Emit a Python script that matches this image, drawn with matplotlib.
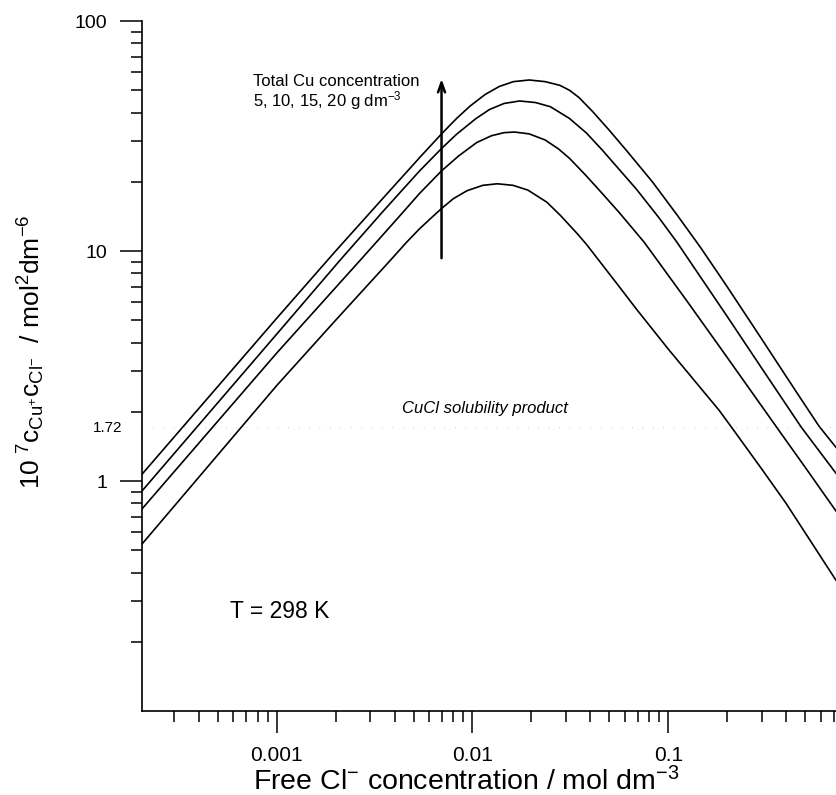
import matplotlib
matplotlib.use('Agg')
import matplotlib.pyplot as plt
from matplotlib.ticker import LogLocator, NullFormatter, FixedLocator, FixedFormatter

plt.rcParams['font.family'] = ['Liberation Sans', 'DejaVu Sans']
plt.rcParams['mathtext.default'] = 'regular'

# free Cl- concentration (mol dm-3) and 1e7*c(Cu+)*c(Cl-)
cl_20 = [2.05e-4, 1e-3, 2e-3, 3.5e-3, 5.4e-3, 6.95e-3, 8.3e-3, 9.7e-3, 0.0116, 0.0137, 0.0162, 0.0195,
         0.0235, 0.028, 0.0313, 0.035, 0.041, 0.05, 0.062, 0.083, 0.11, 0.147, 0.2, 0.3, 0.45, 0.59, 0.72]
k_20 = [1.07, 5.1, 10.0, 17.0, 25.6, 32.3, 37.7, 42.6, 47.9, 51.9, 54.5, 55.4,
        54.5, 52.5, 50.0, 46.5, 40.5, 33.5, 27.0, 20.0, 14.5, 10.3, 7.0, 4.15, 2.45, 1.73, 1.40]

cl_15 = [2.05e-4, 1e-3, 2.09e-3, 3.5e-3, 5.37e-3, 6.95e-3, 8.3e-3, 0.0104, 0.0122, 0.0145, 0.0174,
         0.021, 0.025, 0.0313, 0.0382, 0.046, 0.0687, 0.09, 0.111, 0.2, 0.3, 0.477, 0.72]
k_15 = [0.905, 4.35, 9.05, 14.9, 22.3, 27.9, 32.2, 37.6, 41.2, 43.8, 44.9,
        44.2, 42.4, 37.7, 32.6, 27.5, 18.6, 13.9, 10.9, 5.2, 3.1, 1.72, 1.08]

cl_10 = [2.05e-4, 1e-3, 2.65e-3, 4e-3, 5.37e-3, 6.95e-3, 8.5e-3, 0.0105, 0.0125, 0.0145, 0.0164,
         0.0195, 0.0235, 0.0275, 0.0313, 0.038, 0.046, 0.0562, 0.0755, 0.124, 0.2, 0.364, 0.5, 0.72]
k_10 = [0.756, 3.6, 9.05, 13.4, 17.8, 22.3, 25.9, 29.6, 31.7, 32.7, 32.9,
        32.3, 30.4, 27.8, 25.3, 21.3, 17.8, 14.7, 10.9, 6.1, 3.45, 1.68, 1.15, 0.74]

cl_5 = [2.05e-4, 1e-3, 2e-3, 3.78e-3, 4.6e-3, 5.37e-3, 6.2e-3, 6.95e-3, 8.0e-3, 9.4e-3, 0.0113, 0.0134,
        0.0161, 0.0192, 0.024, 0.0281, 0.0343, 0.0382, 0.0562, 0.0687, 0.1, 0.182, 0.212, 0.3, 0.4, 0.55, 0.72]
k_5 = [0.532, 2.6, 5.0, 9.05, 10.9, 12.5, 14.0, 15.3, 16.9, 18.3, 19.3, 19.6,
       19.3, 18.4, 16.3, 14.3, 11.9, 10.7, 7.0, 5.6, 3.75, 2.03, 1.70, 1.13, 0.80, 0.527, 0.37]

ksp = 1.72

fig = plt.figure(figsize=(8.36, 7.95), dpi=100)
ax = fig.add_axes([142/836, 84/795, 694/836, 690/795])

for x, y in [(cl_5, k_5), (cl_10, k_10), (cl_15, k_15), (cl_20, k_20)]:
    ax.plot(x, y, color='black', lw=1.2)

ax.axhline(ksp, color='0.6', lw=0.5, ls=(0, (1, 14)))

ax.set_xscale('log')
ax.set_yscale('log')
ax.set_xlim(2.05e-4, 0.72)
ax.set_ylim(0.1, 100)

ax.xaxis.set_major_locator(FixedLocator([0.001, 0.01, 0.1]))
ax.xaxis.set_major_formatter(FixedFormatter(['0.001', '0.01', '0.1']))
ax.xaxis.set_minor_locator(LogLocator(base=10, subs=range(2, 10)))
ax.xaxis.set_minor_formatter(NullFormatter())

ax.yaxis.set_major_locator(FixedLocator([1, ksp, 10, 100]))
ax.yaxis.set_major_formatter(FixedFormatter(['1', '1.72', '10', '100']))
ax.yaxis.set_minor_locator(LogLocator(base=10, subs=range(2, 10)))
ax.yaxis.set_minor_formatter(NullFormatter())

for side in ['top', 'right']:
    ax.spines[side].set_visible(False)
for side in ['left', 'bottom']:
    ax.spines[side].set_linewidth(1.2)

ax.tick_params(which='major', direction='out', length=16, width=1.1, pad=9)
ax.tick_params(which='minor', direction='out', length=8, width=1.1)
ax.tick_params(axis='x', which='major', labelsize=15)
ax.tick_params(axis='y', which='major', labelsize=14)
# 1.72 gets a label but no tick mark, closer to the axis
t172 = ax.yaxis.get_major_ticks()[1]
t172.tick1line.set_visible(False)
t172.label1.set_fontsize(11)
t172.set_pad(-2)

xl = ax.set_xlabel(r'Free Cl$^{-}$ concentration / mol dm$^{-3}$', fontsize=20.5)
xl.set_va('baseline')
ax.xaxis.set_label_coords(0.467, -0.115)
ax.set_ylabel(r'10$^{\ 7}$c$_{Cu^{+}}$c$_{Cl^{-}}$  / mol$^{2}$dm$^{-6}$', fontsize=19)
ax.yaxis.set_label_coords(-0.137, 0.52)

ax.annotate('', xy=(6.95e-3, 57.6), xytext=(6.95e-3, 9.05),
            arrowprops=dict(arrowstyle='->,head_length=0.7,head_width=0.25', lw=1.8, color='black'))
ax.text(7.55e-4, 54.3, 'Total Cu concentration', fontsize=12, va='center', ha='left')
ax.text(7.55e-4, 45.0, r'5, 10, 15, 20 g dm$^{-3}$', fontsize=12, va='center', ha='left')
ax.text(0.01164, 2.06, 'CuCl solubility product', fontsize=12, style='italic', ha='center', va='center')
ax.text(5.75e-4, 0.272, 'T = 298 K', fontsize=16.5, ha='left', va='center')

fig.savefig('out.png', dpi=100)
